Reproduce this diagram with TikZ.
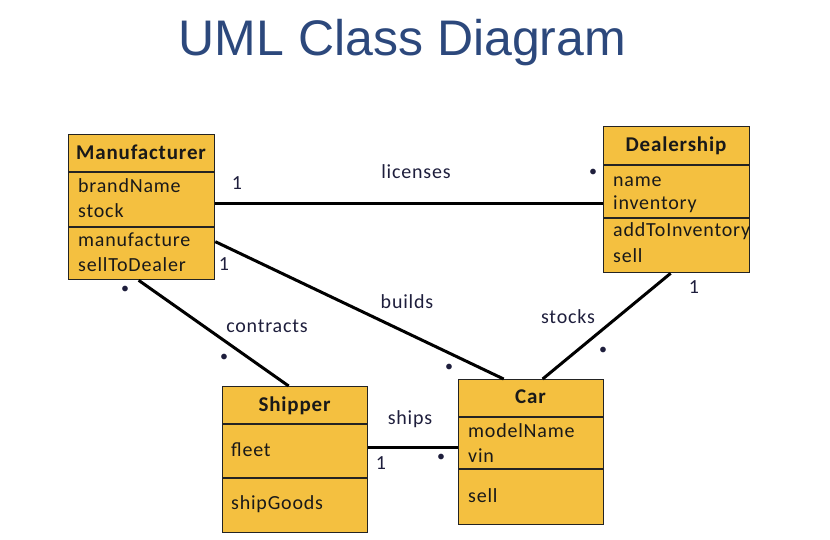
\documentclass[tikz,border=0pt]{standalone}
\usepackage{fontspec}
\setmainfont{Carlito}[LetterSpace=4]
\newfontfamily\titlefont{Liberation Sans}
\definecolor{classfill}{RGB}{244,192,64}
\definecolor{titleblue}{RGB}{44,72,124}
\definecolor{labelink}{RGB}{30,30,60}
\definecolor{boxline}{RGB}{35,35,35}
\tikzset{
  classbox/.style={draw=boxline, line width=1.3pt, fill=classfill, inner sep=0pt, anchor=north west},
  divider/.style={draw=boxline, line width=1.3pt},
  clstitle/.style={font=\fontsize{21}{25}\selectfont\bfseries, inner sep=0pt, text=black!90, text height=1.38ex, text depth=0pt, yshift=-3pt},
  clsitem/.style={font=\fontsize{20}{24}\selectfont, inner sep=0pt, anchor=west, text=black!90, text height=1.38ex, text depth=0pt, yshift=-3pt},
  conn/.style={line width=3pt, black},
  lbl/.style={font=\fontsize{20}{24}\selectfont, inner sep=0pt, text=labelink, text height=1.38ex, text depth=0pt, yshift=-3pt},
  dotmark/.style={font=\fontsize{16}{18}\selectfont, inner sep=0pt, text=labelink},
}
\begin{document}
\begin{tikzpicture}[x=1pt,y=-1pt]
\useasboundingbox (0,0) rectangle (830,540);
% title
\node[font=\titlefont\fontsize{50}{60}\selectfont, text=titleblue, inner sep=0pt, text height=35.8pt, text depth=0pt] (title) at (402.5,37.5) {UML Class Diagram};

% Manufacturer
\node[classbox, minimum width=146pt, minimum height=145pt] (man) at (68,134) {};
\draw[divider] (68,172) -- (214,172);
\draw[divider] (68,227) -- (214,227);
\node[clstitle] (man-t) at (141,153) {Manufacturer};
\node[clsitem] (man-a1) at (78,186) {brandName};
\node[clsitem] (man-a2) at (78,211) {stock};
\node[clsitem] (man-m1) at (78,240) {manufacture};
\node[clsitem] (man-m2) at (78,265) {sellToDealer};

% Dealership
\node[classbox, minimum width=146pt, minimum height=146pt] (dea) at (603,126) {};
\draw[divider] (603,165) -- (749,165);
\draw[divider] (603,218) -- (749,218);
\node[clstitle] (dea-t) at (676,145) {Dealership};
\node[clsitem] (dea-a1) at (613,180) {name};
\node[clsitem] (dea-a2) at (613,203) {inventory};
\node[clsitem] (dea-m1) at (613,230) {addToInventory};
\node[clsitem] (dea-m2) at (613,256) {sell};

% Shipper
\node[classbox, minimum width=145pt, minimum height=146pt] (shi) at (222,386) {};
\draw[divider] (222,424) -- (367,424);
\draw[divider] (222,478) -- (367,478);
\node[clstitle] (shi-t) at (294.5,405) {Shipper};
\node[clsitem] (shi-a1) at (231,450) {fleet};
\node[clsitem] (shi-m1) at (231,503) {shipGoods};

% Car
\node[classbox, minimum width=145pt, minimum height=145pt] (car) at (458,379) {};
\draw[divider] (458,417) -- (603,417);
\draw[divider] (458,469) -- (603,469);
\node[clstitle] (car-t) at (530.5,397) {Car};
\node[clsitem] (car-a1) at (468,431) {modelName};
\node[clsitem] (car-a2) at (468,456) {vin};
\node[clsitem] (car-m1) at (468,496) {sell};

% connectors
\draw[conn] ([yshift=3.5pt]man.east) -- ([yshift=-4pt]dea.west);
\draw[conn] ([yshift=-34.5pt]man.east) -- ([xshift=-27.5pt]car.north);
\draw[conn] ([xshift=-3pt]man.south) -- ([xshift=-6.5pt]shi.north);
\draw[conn] ([xshift=-6pt]dea.south) -- ([xshift=11.5pt]car.north);
\draw[conn] ([yshift=12pt]shi.east) -- ([yshift=4.5pt]car.west);

% association labels
\node[lbl] (l-lic) at (416,172) {licenses};
\node[lbl] (l-bld) at (407,302) {builds};
\node[lbl] (l-con) at (267,326) {contracts};
\node[lbl] (l-stk) at (568,317) {stocks};
\node[lbl] (l-shp) at (410,418) {ships};

% multiplicities
\node[lbl] (m1) at (237,183) {1};
\node[lbl] (m2) at (224,264) {1};
\node[lbl] (m3) at (694,287) {1};
\node[lbl] (m4) at (381,463) {1};
\node[dotmark] (d1) at (593,173) {•};
\node[dotmark] (d2) at (449,368) {•};
\node[dotmark] (d3) at (125,290) {•};
\node[dotmark] (d4) at (224,358) {•};
\node[dotmark] (d5) at (603,351) {•};
\node[dotmark] (d6) at (441,458) {•};
\end{tikzpicture}
\end{document}
